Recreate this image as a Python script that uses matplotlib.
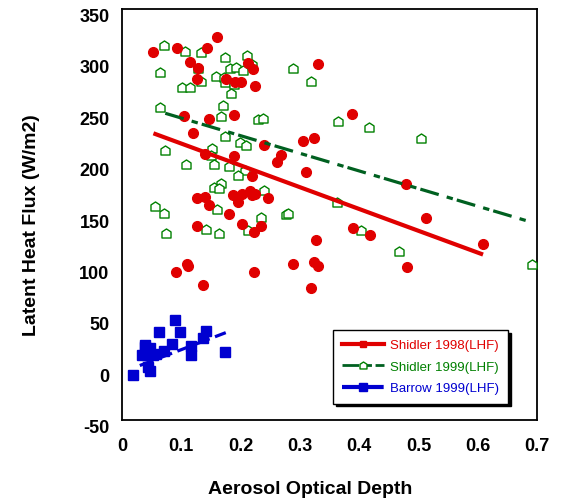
import numpy as np
import matplotlib
matplotlib.use("Agg")
import matplotlib.pyplot as plt
from matplotlib.lines import Line2D
from matplotlib.path import Path
import matplotlib.transforms as mtransforms

plt.rcParams['font.family'] = ['Liberation Sans', 'DejaVu Sans']

# ---- data -----------------------------------------------------------------
shidler98_aod = [0.053, 0.092, 0.143, 0.161, 0.114, 0.128, 0.126, 0.175, 0.191, 0.200,
                 0.213, 0.221, 0.225, 0.330, 0.388, 0.105, 0.147, 0.189, 0.120, 0.240,
                 0.306, 0.324, 0.269, 0.189, 0.140, 0.261, 0.310, 0.219, 0.187, 0.202,
                 0.216, 0.219, 0.224, 0.195, 0.246, 0.126, 0.140, 0.147, 0.181, 0.126,
                 0.202, 0.234, 0.223, 0.328, 0.390, 0.418, 0.109, 0.112, 0.091, 0.137,
                 0.223, 0.288, 0.324, 0.331, 0.319, 0.479, 0.513, 0.609, 0.480]
shidler98_lhf = [308, 312, 312, 323, 298, 293, 282, 282, 279, 279,
                 297, 292, 275, 296, 248, 246, 243, 247, 229, 218,
                 222, 224, 208, 207, 209, 201, 191, 187, 169, 170,
                 173, 169, 170, 162, 166, 166, 167, 159, 150, 139,
                 141, 139, 133, 125, 137, 130, 102, 100, 94, 81,
                 94, 102, 104, 100, 78, 180, 147, 121, 99]

shidler99_aod = [0.070, 0.106, 0.134, 0.173, 0.210, 0.064, 0.128, 0.182, 0.192, 0.204,
                 0.219, 0.289, 0.318, 0.158, 0.172, 0.173, 0.134, 0.102, 0.114, 0.189,
                 0.184, 0.064, 0.171, 0.167, 0.230, 0.238, 0.365, 0.173, 0.199, 0.209,
                 0.073, 0.152, 0.150, 0.108, 0.155, 0.181, 0.207, 0.195, 0.167, 0.155,
                 0.164, 0.239, 0.056, 0.070, 0.161, 0.234, 0.277, 0.280, 0.362, 0.075,
                 0.141, 0.164, 0.213, 0.403, 0.417, 0.504, 0.467, 0.691]
shidler99_lhf = [315, 309, 308, 303, 305, 289, 293, 293, 294, 291,
                 296, 293, 280, 285, 284, 279, 280, 274, 274, 277,
                 268, 255, 257, 246, 243, 244, 241, 226, 221, 218,
                 213, 215, 208, 199, 199, 197, 193, 188, 181, 177,
                 176, 174, 158, 151, 155, 148, 150, 151, 162, 132,
                 136, 132, 135, 135, 235, 224, 114, 102]

barrow99_aod = [0.089, 0.063, 0.098, 0.142, 0.136, 0.084, 0.116, 0.116, 0.039, 0.047,
                0.058, 0.033, 0.042, 0.053, 0.044, 0.047, 0.019, 0.174, 0.039, 0.070]
barrow99_lhf = [47, 36, 36, 37, 30, 24, 22, 13, 21, 20,
                14, 13, 13, 13, 2, -2, -6, 16, 23, 17]

# trend lines (end points)
fit98_x, fit98_y = [0.053, 0.609], [229, 111]
fit99_x, fit99_y = [0.073, 0.682], [248.5, 144]
fitbr_x, fitbr_y = [0.030, 0.175], [3, 35]

series_labels = ['Shidler 1998(LHF)', 'Shidler 1999(LHF)', 'Barrow 1999(LHF)']
xticks = [0, 0.1, 0.2, 0.3, 0.4, 0.5, 0.6, 0.7]
yticks = [-50, 0, 50, 100, 150, 200, 250, 300, 350]

red = '#e00000'
green = '#008000'
dkgreen = '#006020'
blue = '#0000d0'

# house shaped open marker used for the 1999 Shidler points
house = Path([(-1, -1), (1, -1), (1, 0.35), (0, 1), (-1, 0.35), (-1, -1)],
             [Path.MOVETO, Path.LINETO, Path.LINETO, Path.LINETO, Path.LINETO, Path.CLOSEPOLY])

fig = plt.figure(figsize=(5.61, 5.02), dpi=100)
ax = fig.add_axes([0.2175, 0.1614, 0.7397, 0.8187])

ax.plot(shidler99_aod, shidler99_lhf, ls='none', marker=house, ms=6.5,
        mfc='white', mec=green, mew=1.0, zorder=3)
ax.plot(shidler98_aod, shidler98_lhf, ls='none', marker='o', ms=7,
        mfc=red, mec=red, zorder=4)
ax.plot(barrow99_aod, barrow99_lhf, ls='none', marker='s', ms=7,
        mfc=blue, mec=blue, zorder=4)

ax.plot(fit99_x, fit99_y, color=dkgreen, lw=2.3, ls=(0, (6, 2.6, 2, 1.3)), zorder=5)
ax.plot(fit98_x, fit98_y, color=red, lw=3, ls='-', solid_capstyle='butt', zorder=5)
ax.plot(fitbr_x, fitbr_y, color=blue, lw=2.3, ls=(0, (4.5, 1.8)), zorder=5)

ax.set_xlim(0, 0.7)
ax.set_ylim(-50, 350)
ax.set_xticks(xticks, labels=['0' if t == 0 else f'{t:g}' for t in xticks])
ax.set_yticks(yticks, labels=[str(t) for t in yticks])
ax.tick_params(axis='both', length=0, labelsize=13)
ax.tick_params(axis='x', pad=12)
ax.tick_params(axis='y', pad=9)
for lab in ax.get_xticklabels() + ax.get_yticklabels():
    lab.set_fontweight('bold')
# Excel-like: y labels sit slightly below their tick
off = mtransforms.ScaledTranslation(0, -4 / 72, fig.dpi_scale_trans)
for lab in ax.get_yticklabels():
    lab.set_transform(lab.get_transform() + off)

for sp in ax.spines.values():
    sp.set_color('black')
    sp.set_linewidth(1.3)

fig.text(310 / 561, 1 - 490 / 502, 'Aerosol Optical Depth', ha='center', va='center',
         fontsize=14, fontweight='bold')
fig.text(32 / 561, 1 - 225 / 502, 'Latent Heat Flux (W/m2)', ha='center', va='center',
         rotation=90, fontsize=14, fontweight='bold')

handles = [
    Line2D([], [], color=red, lw=3, marker='s', ms=5, mfc=red, mec=red),
    Line2D([], [], color=dkgreen, lw=2, ls=(0, (6, 2.6, 2, 1.3)), marker=house, ms=5,
           mfc='white', mec=green),
    Line2D([], [], color=blue, lw=3, ls=(0, (4.5, 1.0)), marker='s', ms=5.5, mfc=blue, mec=blue),
]
leg = fig.legend(handles, series_labels, loc='upper left', bbox_to_anchor=(333 / 561, 1 - 331 / 502),
                 bbox_transform=fig.transFigure, borderaxespad=0, fontsize=9.5,
                 handlelength=3.2, handletextpad=0.4, labelspacing=0.7, borderpad=0.7,
                 fancybox=False, framealpha=1, edgecolor='black',
                 shadow={'color': 'black', 'alpha': 1})
leg.get_frame().set_linewidth(1.0)
for txt, c in zip(leg.get_texts(), [red, green, blue]):
    txt.set_color(c)

fig.savefig('out.png', dpi=100)
